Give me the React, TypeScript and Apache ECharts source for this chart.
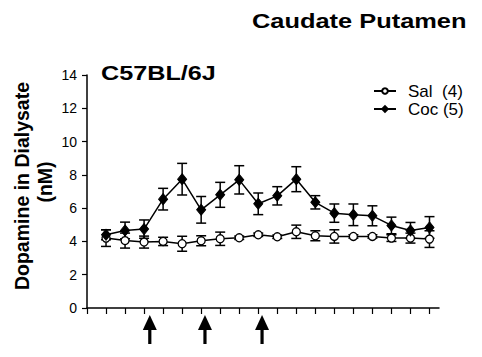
import React, { useEffect, useRef } from "react";
import * as echarts from "echarts";

const timePoints = [1, 2, 3, 4, 5, 6, 7, 8, 9, 10, 11, 12, 13, 14, 15, 16, 17, 18];
const salMean = [4.2, 4.05, 3.96, 4.0, 3.86, 4.04, 4.16, 4.22, 4.4, 4.28, 4.58, 4.34, 4.3, 4.3, 4.3, 4.2, 4.2, 4.14];
const salErr = [0.5, 0.45, 0.36, 0.25, 0.45, 0.3, 0.4, 0.1, 0.1, 0.1, 0.4, 0.3, 0.4, 0.1, 0.1, 0.2, 0.3, 0.5];
const cocMean = [4.4, 4.66, 4.74, 6.54, 7.74, 5.9, 6.8, 7.7, 6.26, 6.74, 7.74, 6.35, 5.7, 5.6, 5.54, 4.96, 4.66, 4.84];
const cocErr = [0.3, 0.5, 0.55, 0.65, 0.95, 0.8, 0.75, 0.85, 0.65, 0.55, 0.75, 0.4, 0.55, 0.65, 0.6, 0.5, 0.48, 0.65];
const injectionTimes = [3.3, 6.2, 9.2];
const yTicks = [0, 2, 4, 6, 8, 10, 12, 14];
const xTicks = [0, 1, 2, 3, 4, 5, 6, 7, 8, 9, 10, 11, 12, 13, 14, 15, 16, 17, 18];
const salName = "Sal\u00a0 (4)";
const cocName = "Coc (5)";

const errorBarSeries = (mean: number[], err: number[], z: number) => ({
  type: "custom",
  z,
  silent: true,
  clip: false,
  data: timePoints.map((t, i) => [t, mean[i] - err[i], mean[i] + err[i]]),
  encode: { x: 0, y: [1, 2] },
  renderItem: (_params: any, api: any) => {
    const x = api.value(0);
    const lo = api.coord([x, api.value(1)]);
    const hi = api.coord([x, api.value(2)]);
    const hw = 5;
    const st = { stroke: "#000", lineWidth: 1.5 };
    return {
      type: "group",
      children: [
        { type: "line", shape: { x1: lo[0], y1: lo[1], x2: hi[0], y2: hi[1] }, style: st },
        { type: "line", shape: { x1: lo[0] - hw, y1: lo[1], x2: lo[0] + hw, y2: lo[1] }, style: st },
        { type: "line", shape: { x1: hi[0] - hw, y1: hi[1], x2: hi[0] + hw, y2: hi[1] }, style: st },
      ],
    };
  },
});

export default function App() {
  const ref = useRef<HTMLDivElement>(null);
  useEffect(() => {
    if (!ref.current) return;
    const chart = echarts.init(ref.current, undefined, { renderer: "svg" });
    const font = '"Liberation Sans", Arial, sans-serif';
    chart.setOption({
      animation: false,
      backgroundColor: "#fff",
      grid: { left: 87, right: 43, top: 75, bottom: 49, containLabel: false },
      legend: {
        orient: "vertical",
        left: 368,
        top: 77,
        itemWidth: 22,
        itemHeight: 7,
        itemGap: 0,
        selectedMode: false,
        data: [salName, cocName],
        textStyle: { fontFamily: font, fontSize: 17, color: "#000", lineHeight: 18, padding: [0, 0, 0, 7] },
      },
      xAxis: {
        type: "value",
        min: 0,
        max: 18.5,
        interval: 1,
        axisLine: { show: true, lineStyle: { color: "#000", width: 1.5 } },
        axisTick: { show: true, length: 6, customValues: xTicks, lineStyle: { color: "#000", width: 1.2 } },
        axisLabel: { show: false },
        splitLine: { show: false },
      },
      yAxis: {
        type: "value",
        min: 0,
        max: 14,
        interval: 2,
        axisLine: { show: true, lineStyle: { color: "#000", width: 1.5 } },
        axisTick: { show: true, length: 5, customValues: yTicks, lineStyle: { color: "#000", width: 1.2 } },
        axisLabel: { show: true, color: "#000", fontFamily: font, fontSize: 14, margin: 10 },
        splitLine: { show: false },
      },
      graphic: [
        {
          type: "text",
          x: 252,
          y: 21,
          scaleX: 1.21,
          style: { text: "Caudate Putamen", font: 'bold 21px "Liberation Sans", Arial, sans-serif', fill: "#000", verticalAlign: "middle", align: "left" },
        },
        {
          type: "text",
          x: 101,
          y: 73,
          scaleX: 1.2,
          style: { text: "C57BL/6J", font: 'bold 21px "Liberation Sans", Arial, sans-serif', fill: "#000", verticalAlign: "middle", align: "left" },
        },
        {
          type: "text",
          x: 21.5,
          y: 186,
          rotation: Math.PI / 2,
          style: { text: "Dopamine in Dialysate", font: 'bold 19.5px "Liberation Sans", Arial, sans-serif', fill: "#000", verticalAlign: "middle", align: "center" },
        },
        {
          type: "text",
          x: 45,
          y: 182,
          rotation: Math.PI / 2,
          style: { text: "(nM)", font: 'bold 19.5px "Liberation Sans", Arial, sans-serif', fill: "#000", verticalAlign: "middle", align: "center" },
        },
      ],
      series: [
        errorBarSeries(salMean, salErr, 1),
        errorBarSeries(cocMean, cocErr, 1),
        {
          name: salName,
          type: "line",
          z: 3,
          data: timePoints.map((t, i) => [t, salMean[i]]),
          symbol: "circle",
          symbolSize: 8,
          lineStyle: { color: "#000", width: 1.5 },
          itemStyle: { color: "#fff", borderColor: "#000", borderWidth: 1.3 },
          emphasis: { disabled: true },
        },
        {
          name: cocName,
          type: "line",
          z: 4,
          data: timePoints.map((t, i) => [t, cocMean[i]]),
          symbol: "diamond",
          symbolSize: [9, 11],
          lineStyle: { color: "#000", width: 1.5 },
          itemStyle: { color: "#000", borderColor: "#000", borderWidth: 1 },
          emphasis: { disabled: true },
        },
        {
          type: "custom",
          z: 5,
          silent: true,
          clip: false,
          data: injectionTimes.map((t) => [t, 0]),
          encode: { x: 0, y: 1 },
          renderItem: (_params: any, api: any) => {
            const p = api.coord([api.value(0), api.value(1)]);
            return {
              type: "group",
              children: [
                {
                  type: "polygon",
                  shape: { points: [[p[0], p[1] + 7], [p[0] - 7, p[1] + 22], [p[0] + 7, p[1] + 22]] },
                  style: { fill: "#000" },
                },
                {
                  type: "rect",
                  shape: { x: p[0] - 1.6, y: p[1] + 20, width: 3.2, height: 16 },
                  style: { fill: "#000" },
                },
              ],
            };
          },
        },
      ],
    });
    return () => chart.dispose();
  }, []);
  return <div ref={ref} style={{ position: "fixed", left: 0, top: 0, width: 482, height: 357, background: "#fff" }} />;
}
